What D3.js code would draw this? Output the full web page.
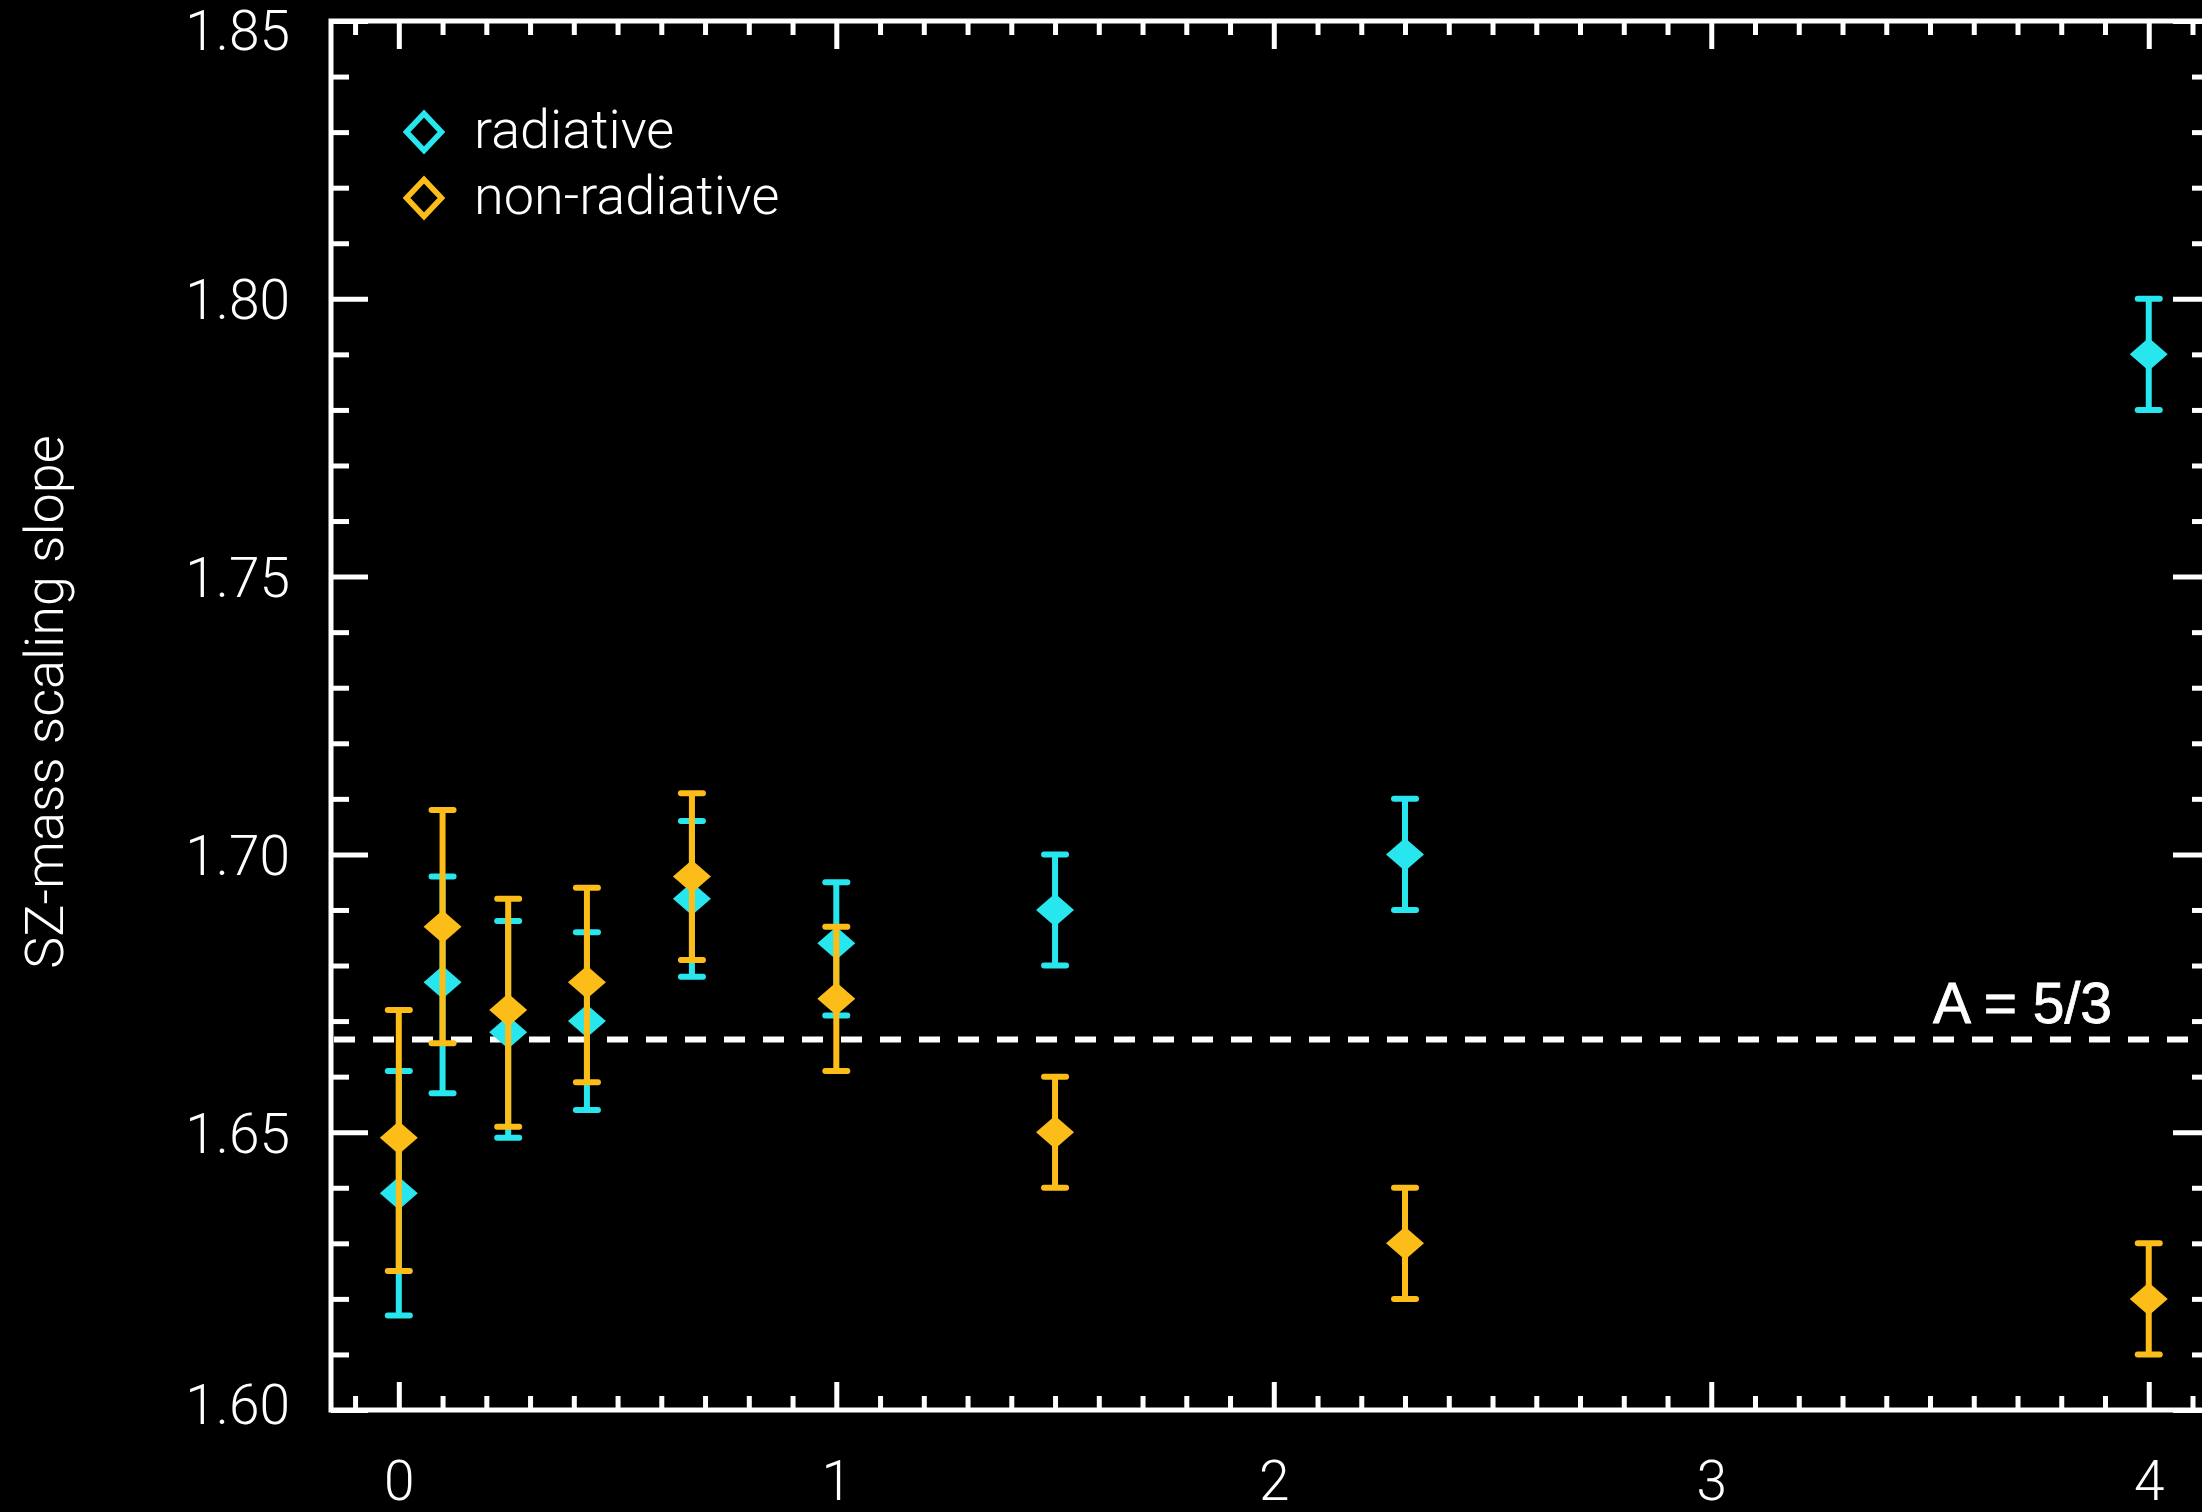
<!DOCTYPE html>
<html>
<head>
<meta charset="utf-8">
<script src="https://cdn.jsdelivr.net/npm/d3@7"></script>
<style>
  body { margin: 0; background: #000; }
  svg { display: block; }
  .lite { font-family: "Helvetica Neue", Roboto, "Liberation Sans", sans-serif; font-weight: 300; fill: #fff; }
</style>
</head>
<body>
<svg id="chart"></svg>
<script>
// redshift of each snapshot and the fitted slopes with their error ranges
var redshift = [0, 0.1, 0.25, 0.43, 0.67, 1.0, 1.5, 2.3, 4.0]

var radSlope = [1.639, 1.677, 1.668, 1.670, 1.692, 1.684, 1.690, 1.700, 1.790]
var radHi    = [1.661, 1.696, 1.688, 1.686, 1.706, 1.695, 1.700, 1.710, 1.800]
var radLo    = [1.617, 1.657, 1.649, 1.654, 1.678, 1.671, 1.680, 1.690, 1.780]

var nonradSlope = [1.649, 1.687, 1.672, 1.677, 1.696, 1.674, 1.650, 1.630, 1.620]
var nonradHi    = [1.672, 1.708, 1.692, 1.694, 1.711, 1.687, 1.660, 1.640, 1.630]
var nonradLo    = [1.625, 1.666, 1.651, 1.659, 1.681, 1.661, 1.640, 1.620, 1.610]

var seriesNames = ["radiative", "non-radiative"]
var seriesColors = ["#28e6ee", "#fcbd18"]

var xMajorTicks = [0, 1, 2, 3, 4]
var yMajorTicks = [1.60, 1.65, 1.70, 1.75, 1.80, 1.85]
var refSlope = 5 / 3
var refLabel = "A = 5/3"
var yTitle = "SZ-mass scaling slope"

var W = 2202, H = 1512
var svg = d3.select("#chart")
    .attr("width", W)
    .attr("height", H)
    .style("background", "#000")

var box = {left: 331, right: 2210, top: 21, bottom: 1410}

var x = d3.scaleLinear().domain([-0.155, 4.14]).range([box.left, box.right])
var y = d3.scaleLinear().domain([1.60, 1.85]).range([box.bottom, box.top])

var xMinor = d3.range(-1, 42).map(i => i / 10).filter(v => Math.abs(v - Math.round(v)) > 1e-6)
var yMinor = d3.range(160, 186).map(i => i / 100).filter(v => Math.round(v * 100) % 5 != 0)

var axisG = svg.append("g")

function tickAxis(axis, tx, ty) {
    var g = axisG.append("g")
        .attr("transform", `translate(${tx},${ty})`)
        .call(axis.tickFormat("").tickSizeOuter(0))
    g.select(".domain").remove()
    g.selectAll(".tick line").attr("stroke", "#fff").attr("stroke-width", 5)
    return g
}

// x ticks, bottom and top, pointing inwards
tickAxis(d3.axisTop(x).tickValues(xMajorTicks).tickSize(28), 0, box.bottom)
tickAxis(d3.axisTop(x).tickValues(xMinor).tickSize(14), 0, box.bottom)
tickAxis(d3.axisBottom(x).tickValues(xMajorTicks).tickSize(28), 0, box.top)
tickAxis(d3.axisBottom(x).tickValues(xMinor).tickSize(14), 0, box.top)
// y ticks, left and right
tickAxis(d3.axisRight(y).tickValues(yMajorTicks).tickSize(37), box.left, 0)
tickAxis(d3.axisRight(y).tickValues(yMinor).tickSize(18), box.left, 0)
tickAxis(d3.axisLeft(y).tickValues(yMajorTicks).tickSize(37), box.right, 0)
tickAxis(d3.axisLeft(y).tickValues(yMinor).tickSize(18), box.right, 0)

// frame
axisG.append("rect")
    .attr("x", box.left).attr("y", box.top)
    .attr("width", box.right - box.left).attr("height", box.bottom - box.top)
    .attr("fill", "none").attr("stroke", "#fff").attr("stroke-width", 5)

// tick labels
var xLab = axisG.append("g")
    .attr("transform", `translate(0,${box.bottom})`)
    .call(d3.axisBottom(x).tickValues(xMajorTicks).tickSize(0).tickPadding(51).tickFormat(d3.format("d")))
xLab.select(".domain").remove()
xLab.selectAll("text").attr("class", "lite").attr("font-size", 55)

var yLab = axisG.append("g")
    .attr("transform", `translate(${box.left},0)`)
    .call(d3.axisLeft(y).tickValues(yMajorTicks).tickSize(0).tickPadding(41).tickFormat(d3.format(".2f")))
yLab.select(".domain").remove()
yLab.selectAll("text").attr("class", "lite").attr("font-size", 55).attr("dy", "0.36em")
    .attr("y", d => d > 1.84 ? 9 : (d < 1.61 ? -6 : 0))

svg.append("text")
    .attr("class", "lite")
    .attr("font-size", 54)
    .attr("text-anchor", "middle")
    .attr("transform", "translate(63,702) rotate(-90)")
    .text(yTitle)

// reference line A = 5/3
svg.append("line")
    .attr("x1", box.left + 3).attr("x2", box.right)
    .attr("y1", y(refSlope)).attr("y2", y(refSlope))
    .attr("stroke", "#fff").attr("stroke-width", 6)
    .attr("stroke-dasharray", "21 18")

svg.append("text")
    .attr("x", 2112).attr("y", y(refSlope) - 17)
    .attr("text-anchor", "end")
    .attr("font-family", "'Liberation Sans', Arial, sans-serif")
    .attr("font-size", 57)
    .attr("fill", "#fff")
    .attr("stroke", "#fff").attr("stroke-width", 0.8)
    .text(refLabel)

// data series
var series = [
    {name: seriesNames[0], color: seriesColors[0], v: radSlope, hi: radHi, lo: radLo},
    {name: seriesNames[1], color: seriesColors[1], v: nonradSlope, hi: nonradHi, lo: nonradLo}
]

function diamond(cx, cy, w, h) {
    return `M${cx - w},${cy}L${cx},${cy - h}L${cx + w},${cy}L${cx},${cy + h}Z`
}

series.forEach(function (s) {
    var rows = redshift.map((z, i) => ({z: z, v: s.v[i], hi: s.hi[i], lo: s.lo[i]}))
    var g = svg.append("g")

    g.selectAll(".bar").data(rows).enter().append("line")
        .attr("x1", d => x(d.z)).attr("x2", d => x(d.z))
        .attr("y1", d => y(d.lo)).attr("y2", d => y(d.hi))
        .attr("stroke", s.color).attr("stroke-width", 6)

    g.selectAll(".cap").data(rows.flatMap(d => [{z: d.z, e: d.lo}, {z: d.z, e: d.hi}])).enter().append("line")
        .attr("x1", d => x(d.z) - 11).attr("x2", d => x(d.z) + 11)
        .attr("y1", d => y(d.e)).attr("y2", d => y(d.e))
        .attr("stroke", s.color).attr("stroke-width", 6).attr("stroke-linecap", "round")

    g.selectAll(".pt").data(rows).enter().append("path")
        .attr("d", d => diamond(x(d.z), y(d.v), 19, 16.5))
        .attr("fill", s.color)
})

// legend
var leg = svg.append("g")
series.forEach(function (s, i) {
    var ly = 132 + i * 66
    leg.append("path")
        .attr("d", diamond(424, ly, 17.5, 18.5))
        .attr("fill", "none").attr("stroke", s.color).attr("stroke-width", 5.5)
    leg.append("text")
        .attr("class", "lite")
        .attr("x", 474).attr("y", ly + 16)
        .attr("font-size", 54)
        .text(s.name)
})
</script>
</body>
</html>
